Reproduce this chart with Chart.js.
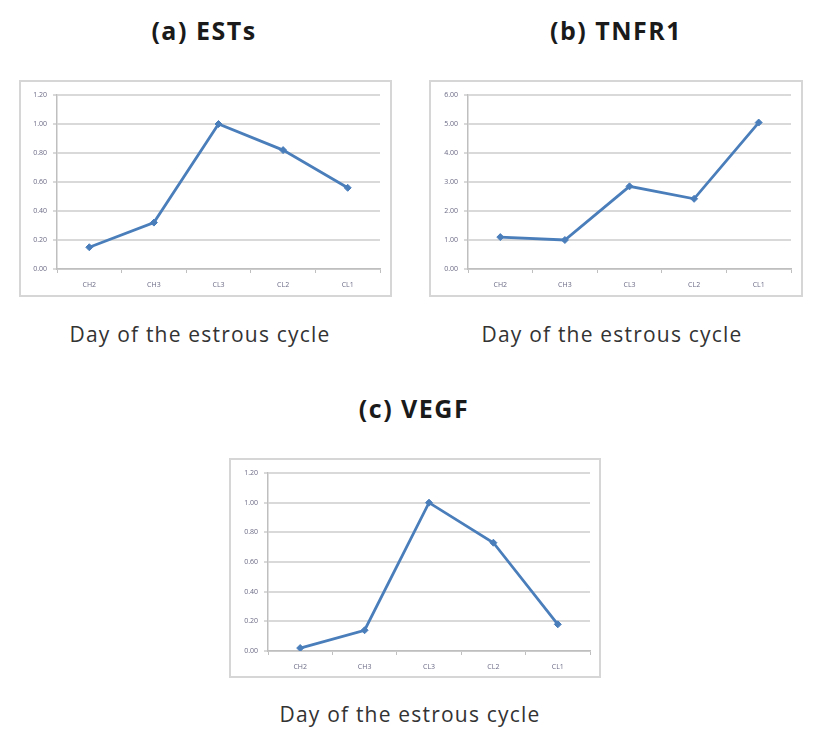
<!DOCTYPE html>
<html>
<head>
<meta charset="utf-8">
<script src="https://cdn.jsdelivr.net/npm/chart.js@4.4.0/dist/chart.umd.min.js"></script>
<style>
  html, body { margin: 0; padding: 0; background: #fff; }
  body { width: 827px; height: 746px; position: relative; overflow: hidden; font-family: "Open Sans", "Noto Sans", sans-serif; }
  .title { position: absolute; transform: translate(-50%, -50%); font-weight: bold; font-size: 25px; letter-spacing: 1.5px; color: #1a1a1a; white-space: nowrap; }
  .xt { position: absolute; transform: translate(-50%, -50%); font-size: 21px; letter-spacing: 1.2px; color: #333; white-space: nowrap; }
  canvas { position: absolute; }
  .frame { position: absolute; border: 2px solid #d6d6d6; box-sizing: border-box; pointer-events: none; }
</style>
</head>
<body>
<div class="title" style="left:204px; top:30px;">(a) ESTs</div>
<div class="title" style="left:616px; top:30px;">(b) TNFR1</div>
<div class="title" style="left:414px; top:408px;">(c) VEGF</div>

<canvas id="ca" width="373" height="217" style="left:19px; top:80px; width:373px; height:217px;"></canvas>
<div class="frame" style="left:19px; top:80px; width:373px; height:217px;"></div>
<canvas id="cb" width="374" height="217" style="left:429px; top:80px; width:374px; height:217px;"></canvas>
<div class="frame" style="left:429px; top:80px; width:374px; height:217px;"></div>
<canvas id="cc" width="372" height="220" style="left:229px; top:458px; width:372px; height:220px;"></canvas>
<div class="frame" style="left:229px; top:458px; width:372px; height:220px;"></div>

<div class="xt" style="left:200px; top:334px;">Day of the estrous cycle</div>
<div class="xt" style="left:612px; top:334px;">Day of the estrous cycle</div>
<div class="xt" style="left:410px; top:714px;">Day of the estrous cycle</div>

<script>
const categories = ["CH2", "CH3", "CL3", "CL2", "CL1"];
const estsValues = [0.15, 0.32, 1.00, 0.82, 0.56];
const tnfr1Values = [1.10, 1.00, 2.85, 2.42, 5.05];
const vegfValues = [0.02, 0.14, 1.00, 0.73, 0.18];
const estsTicks = { max: 1.2, step: 0.2 };
const tnfr1Ticks = { max: 6, step: 1 };
const vegfTicks = { max: 1.2, step: 0.2 };

function makeChart(id, values, tickInfo, yWidth, padRight, padTop, xHeight) {
  new Chart(document.getElementById(id), {
    type: 'line',
    data: {
      labels: categories,
      datasets: [{
        data: values,
        borderColor: '#4a7ebb',
        backgroundColor: '#4a7ebb',
        borderWidth: 2.8,
        pointStyle: 'rectRot',
        pointRadius: 3.5,
        pointBorderWidth: 1,
        tension: 0,
        fill: false
      }]
    },
    options: {
      responsive: false,
      animation: false,
      events: [],
      layout: { padding: { left: 0, right: padRight, top: padTop, bottom: 0 } },
      plugins: { legend: { display: false }, tooltip: { enabled: false }, title: { display: false } },
      scales: {
        x: {
          offset: true,
          grid: { offset: true, drawOnChartArea: false, color: '#bfbfbf', tickLength: 4, lineWidth: 1 },
          border: { color: '#bfbfbf', width: 1.5 },
          ticks: { font: { size: 7, family: 'Open Sans' }, color: '#6a6a86', padding: 8, maxRotation: 0 },
          afterFit: (s) => { s.height = xHeight; }
        },
        y: {
          min: 0,
          max: tickInfo.max,
          grid: { color: '#d9d9d9', lineWidth: 2, tickLength: 4 },
          border: { color: '#bfbfbf', width: 1.5 },
          ticks: {
            stepSize: tickInfo.step,
            font: { size: 7, family: 'Open Sans' },
            color: '#6a6a86',
            padding: 6,
            callback: (v) => Number(v).toFixed(2)
          },
          afterFit: (s) => { s.width = yWidth; }
        }
      }
    }
  });
}

makeChart('ca', estsValues, estsTicks, 38, 12, 15, 28);
makeChart('cb', tnfr1Values, tnfr1Ticks, 39, 12, 15, 28);
makeChart('cc', vegfValues, vegfTicks, 39, 11, 15, 27);
</script>
</body>
</html>
